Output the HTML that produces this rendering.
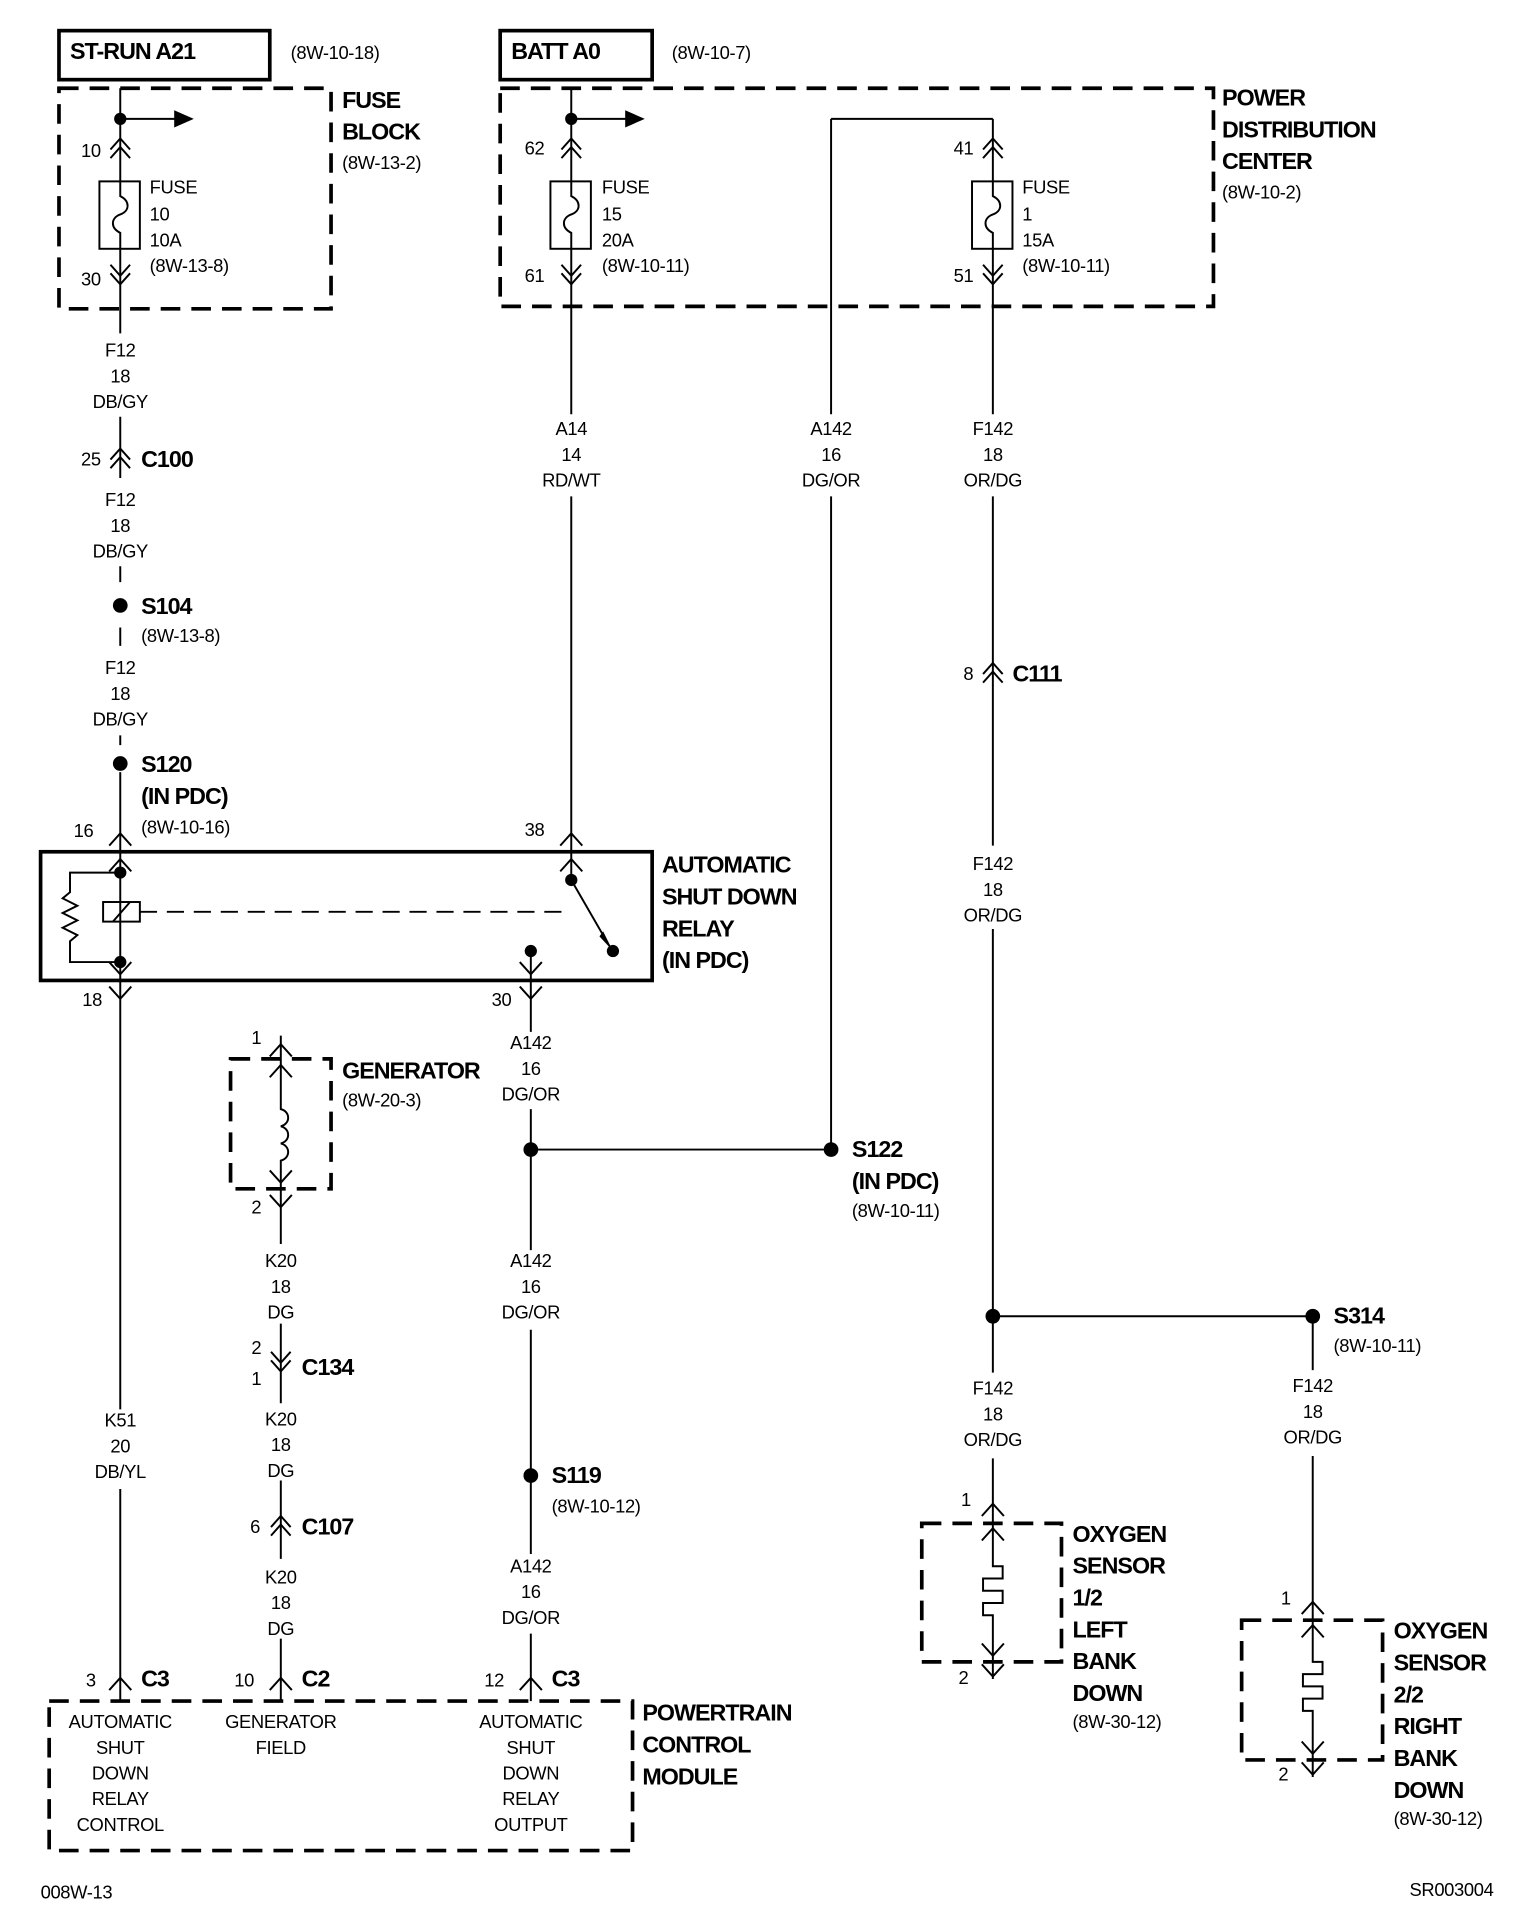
<!DOCTYPE html>
<html><head><meta charset="utf-8"><style>
html,body{margin:0;padding:0;background:#fff}
svg{display:block}
text{font-family:"Liberation Sans Narrow","Liberation Sans",sans-serif;fill:#000}
.t{font-size:15px;letter-spacing:-0.3px}
.c{font-size:15px;text-anchor:middle;letter-spacing:-0.3px}
.b{font-size:19px;font-weight:bold;letter-spacing:-0.8px}
</style></head><body>
<svg width="1520" height="1918" viewBox="0 0 1240 1565" xmlns="http://www.w3.org/2000/svg">
<defs>
<g id="u2" fill="none" stroke="#000" stroke-width="1.6"><polyline points="-8,2 0,-7 8,2"/><polyline points="-8,9 0,0 8,9"/></g>
<g id="d2" fill="none" stroke="#000" stroke-width="1.6"><polyline points="-8,-2 0,7 8,-2"/><polyline points="-8,-9 0,0 8,-9"/></g>
<g id="u1" fill="none" stroke="#000" stroke-width="1.6"><polyline points="-9,7 0,-3 9,7"/></g>
<g id="d1" fill="none" stroke="#000" stroke-width="1.6"><polyline points="-9,-7 0,3 9,-7"/></g>
<g id="fuse" fill="none" stroke="#000" stroke-width="1.6"><rect x="-17" y="0" width="33" height="55"/><path d="M0,0 V12 C8,16 8,24 0,27 C-8,30 -8,38 0,42 V55"/></g>
</defs>
<g fill="none" stroke="#000">
<rect x="48" y="25" width="172" height="40" stroke-width="3"/>
<rect x="408" y="25" width="124" height="40" stroke-width="3"/>
<rect x="48" y="72" width="222" height="180" stroke-width="3" stroke-dasharray="16,9"/>
<rect x="408" y="72" width="582" height="178" stroke-width="3" stroke-dasharray="16,9"/>
<rect x="33" y="695" width="499" height="105" stroke-width="3"/>
<rect x="40" y="1388" width="476" height="122" stroke-width="3" stroke-dasharray="16,9"/>
<rect x="188" y="864" width="82" height="106" stroke-width="3" stroke-dasharray="16,9"/>
<rect x="752" y="1243" width="114" height="113" stroke-width="3" stroke-dasharray="16,9"/>
<rect x="1013" y="1322" width="115" height="114" stroke-width="3" stroke-dasharray="16,9"/>
<g stroke-width="1.6">
<path d="M98,72 V148 M98,203 V272 M98,340 V390 M98,462 V475 M98,512 V527 M98,600 V608 M98,630 V695"/>
<path d="M98,97 H145"/>
<path d="M466,72 V148 M466,203 V338 M466,405 V695 M466,97 H512"/>
<path d="M678,97 H810 M678,97 V338 M678,405 V938"/>
<path d="M810,97 V148 M810,203 V338 M810,405 V690 M810,758 V1120 M810,1190 V1243 M810,1356 V1370"/>
<path d="M1071,1074 V1118 M1071,1188 V1322 M1071,1436 V1450"/>
<path d="M98,800 V1150 M98,1215 V1388"/>
<path d="M229,845 V864 M229,970 V1015 M229,1080 V1145 M229,1208 V1272 M229,1337 V1388"/>
<path d="M433,800 V842 M433,905 V1020 M433,1085 V1268 M433,1333 V1388"/>
<path d="M433,938 H678 M810,1074 H1071"/>
<path d="M98,695 V800 M98,712 H57 V728 l-6,5 l12,6 l-12,6 l12,6 l-12,6 l12,6 l-6,5 V785 H98"/>
<rect x="84" y="736" width="30" height="16"/>
<path d="M92,752 L106,736"/>
<path d="M114,744 H462" stroke-dasharray="14,8"/>
<path d="M466,695 V718 L496,770"/>
<path d="M433,776 V800"/>
<path d="M229,864 V905 c8,2 8,12 0,14 c8,2 8,12 0,14 c8,2 8,12 0,14 V970"/>
<path d="M810,1243 V1278 h8 v10 h-16 v10 h16 v10 h-16 v10 h8 V1356"/>
<path d="M1071,1322 V1356 h8 v10 h-16 v10 h16 v10 h-16 v10 h8 V1436"/>
</g>
</g>
<g fill="#000">
<polygon points="142,90 158,97 142,104"/>
<polygon points="510,90 526,97 510,104"/>
<polygon points="489,764 500,776 492,760"/>
<circle cx="98" cy="97" r="5"/><circle cx="466" cy="97" r="5"/>
<circle cx="98" cy="494" r="6"/><circle cx="98" cy="623" r="6"/>
<circle cx="98" cy="712" r="5"/><circle cx="98" cy="785" r="5"/>
<circle cx="466" cy="718" r="5"/><circle cx="500" cy="776" r="5"/><circle cx="433" cy="776" r="5"/>
<circle cx="433" cy="938" r="6"/><circle cx="678" cy="938" r="6"/>
<circle cx="433" cy="1204" r="6"/>
<circle cx="810" cy="1074" r="6"/><circle cx="1071" cy="1074" r="6"/>
</g>
<use href="#u2" x="98" y="120"/><use href="#d2" x="98" y="225"/>
<use href="#u2" x="466" y="120"/><use href="#d2" x="466" y="225"/>
<use href="#u2" x="810" y="120"/><use href="#d2" x="810" y="225"/>
<use href="#u2" x="98" y="373"/>
<use href="#u2" x="810" y="548"/>
<use href="#u1" x="98" y="683"/><use href="#u1" x="466" y="683"/>
<use href="#u1" x="98" y="704"/><use href="#u1" x="466" y="704"/>
<use href="#d1" x="98" y="792"/><use href="#d1" x="433" y="792"/>
<use href="#d1" x="98" y="812"/><use href="#d1" x="433" y="812"/>
<use href="#u1" x="229" y="855"/><use href="#u1" x="229" y="872"/>
<use href="#d1" x="229" y="962"/><use href="#d1" x="229" y="982"/>
<use href="#d2" x="229" y="1112"/>
<use href="#u2" x="229" y="1244"/>
<use href="#u1" x="98" y="1372"/><use href="#u1" x="229" y="1372"/><use href="#u1" x="433" y="1372"/>
<use href="#u1" x="810" y="1230"/><use href="#u1" x="810" y="1250"/><use href="#d1" x="810" y="1348"/><use href="#d1" x="810" y="1365"/>
<use href="#u1" x="1071" y="1310"/><use href="#u1" x="1071" y="1329"/><use href="#d1" x="1071" y="1428"/><use href="#d1" x="1071" y="1445"/>
<use href="#fuse" x="98" y="148"/><use href="#fuse" x="466" y="148"/><use href="#fuse" x="810" y="148"/>
<text class="b" x="57" y="48">ST-RUN A21</text><text class="t" x="237" y="48">(8W-10-18)</text>
<text class="b" x="417" y="48">BATT A0</text><text class="t" x="548" y="48">(8W-10-7)</text>
<text class="b" x="279" y="88">FUSE</text><text class="b" x="279" y="114">BLOCK</text><text class="t" x="279" y="138">(8W-13-2)</text>
<text class="b" x="997" y="86">POWER</text><text class="b" x="997" y="112">DISTRIBUTION</text><text class="b" x="997" y="138">CENTER</text><text class="t" x="997" y="162">(8W-10-2)</text>
<text class="t" x="66" y="128">10</text><text class="t" x="66" y="233">30</text>
<text class="t" x="428" y="126">62</text><text class="t" x="428" y="230">61</text>
<text class="t" x="778" y="126">41</text><text class="t" x="778" y="230">51</text>
<text class="t" x="122" y="158">FUSE</text><text class="t" x="122" y="180">10</text><text class="t" x="122" y="201">10A</text><text class="t" x="122" y="222">(8W-13-8)</text>
<text class="t" x="491" y="158">FUSE</text><text class="t" x="491" y="180">15</text><text class="t" x="491" y="201">20A</text><text class="t" x="491" y="222">(8W-10-11)</text>
<text class="t" x="834" y="158">FUSE</text><text class="t" x="834" y="180">1</text><text class="t" x="834" y="201">15A</text><text class="t" x="834" y="222">(8W-10-11)</text>
<text class="c" x="98" y="291">F12</text><text class="c" x="98" y="312">18</text><text class="c" x="98" y="333">DB/GY</text>
<text class="t" x="66" y="380">25</text><text class="b" x="115" y="381">C100</text>
<text class="c" x="98" y="413">F12</text><text class="c" x="98" y="434">18</text><text class="c" x="98" y="455">DB/GY</text>
<text class="b" x="115" y="501">S104</text><text class="t" x="115" y="524">(8W-13-8)</text>
<text class="c" x="98" y="550">F12</text><text class="c" x="98" y="571">18</text><text class="c" x="98" y="592">DB/GY</text>
<text class="b" x="115" y="630">S120</text><text class="b" x="115" y="656">(IN PDC)</text><text class="t" x="115" y="680">(8W-10-16)</text>
<text class="t" x="60" y="683">16</text><text class="t" x="428" y="682">38</text>
<text class="c" x="466" y="355">A14</text><text class="c" x="466" y="376">14</text><text class="c" x="466" y="397">RD/WT</text>
<text class="c" x="678" y="355">A142</text><text class="c" x="678" y="376">16</text><text class="c" x="678" y="397">DG/OR</text>
<text class="c" x="810" y="355">F142</text><text class="c" x="810" y="376">18</text><text class="c" x="810" y="397">OR/DG</text>
<text class="t" x="786" y="555">8</text><text class="b" x="826" y="556">C111</text>
<text class="c" x="810" y="710">F142</text><text class="c" x="810" y="731">18</text><text class="c" x="810" y="752">OR/DG</text>
<text class="b" x="540" y="712">AUTOMATIC</text><text class="b" x="540" y="738">SHUT DOWN</text><text class="b" x="540" y="764">RELAY</text><text class="b" x="540" y="790">(IN  PDC)</text>
<text class="t" x="67" y="821">18</text><text class="t" x="401" y="821">30</text>
<text class="t" x="205" y="852">1</text><text class="t" x="205" y="990">2</text>
<text class="b" x="279" y="880">GENERATOR</text><text class="t" x="279" y="903">(8W-20-3)</text>
<text class="c" x="433" y="856">A142</text><text class="c" x="433" y="877">16</text><text class="c" x="433" y="898">DG/OR</text>
<text class="b" x="695" y="944">S122</text><text class="b" x="695" y="970">(IN PDC)</text><text class="t" x="695" y="993">(8W-10-11)</text>
<text class="c" x="229" y="1034">K20</text><text class="c" x="229" y="1055">18</text><text class="c" x="229" y="1076">DG</text>
<text class="c" x="433" y="1034">A142</text><text class="c" x="433" y="1055">16</text><text class="c" x="433" y="1076">DG/OR</text>
<text class="b" x="1088" y="1080">S314</text><text class="t" x="1088" y="1103">(8W-10-11)</text>
<text class="t" x="205" y="1105">2</text><text class="t" x="205" y="1130">1</text><text class="b" x="246" y="1122">C134</text>
<text class="c" x="810" y="1138">F142</text><text class="c" x="810" y="1159">18</text><text class="c" x="810" y="1180">OR/DG</text>
<text class="c" x="1071" y="1136">F142</text><text class="c" x="1071" y="1157">18</text><text class="c" x="1071" y="1178">OR/DG</text>
<text class="c" x="98" y="1164">K51</text><text class="c" x="98" y="1185">20</text><text class="c" x="98" y="1206">DB/YL</text>
<text class="c" x="229" y="1163">K20</text><text class="c" x="229" y="1184">18</text><text class="c" x="229" y="1205">DG</text>
<text class="b" x="450" y="1210">S119</text><text class="t" x="450" y="1234">(8W-10-12)</text>
<text class="t" x="204" y="1251">6</text><text class="b" x="246" y="1252">C107</text>
<text class="c" x="229" y="1292">K20</text><text class="c" x="229" y="1313">18</text><text class="c" x="229" y="1334">DG</text>
<text class="c" x="433" y="1283">A142</text><text class="c" x="433" y="1304">16</text><text class="c" x="433" y="1325">DG/OR</text>
<text class="t" x="784" y="1229">1</text><text class="t" x="782" y="1374">2</text>
<text class="b" x="875" y="1258">OXYGEN</text><text class="b" x="875" y="1284">SENSOR</text><text class="b" x="875" y="1310">1/2</text><text class="b" x="875" y="1336">LEFT</text><text class="b" x="875" y="1362">BANK</text><text class="b" x="875" y="1388">DOWN</text><text class="t" x="875" y="1410">(8W-30-12)</text>
<text class="t" x="1045" y="1309">1</text><text class="t" x="1043" y="1453">2</text>
<text class="b" x="1137" y="1337">OXYGEN</text><text class="b" x="1137" y="1363">SENSOR</text><text class="b" x="1137" y="1389">2/2</text><text class="b" x="1137" y="1415">RIGHT</text><text class="b" x="1137" y="1441">BANK</text><text class="b" x="1137" y="1467">DOWN</text><text class="t" x="1137" y="1489">(8W-30-12)</text>
<text class="t" x="70" y="1376">3</text><text class="b" x="115" y="1376">C3</text>
<text class="t" x="191" y="1376">10</text><text class="b" x="246" y="1376">C2</text>
<text class="t" x="395" y="1376">12</text><text class="b" x="450" y="1376">C3</text>
<text class="c" x="98" y="1410">AUTOMATIC</text><text class="c" x="98" y="1431">SHUT</text><text class="c" x="98" y="1452">DOWN</text><text class="c" x="98" y="1473">RELAY</text><text class="c" x="98" y="1494">CONTROL</text>
<text class="c" x="229" y="1410">GENERATOR</text><text class="c" x="229" y="1431">FIELD</text>
<text class="c" x="433" y="1410">AUTOMATIC</text><text class="c" x="433" y="1431">SHUT</text><text class="c" x="433" y="1452">DOWN</text><text class="c" x="433" y="1473">RELAY</text><text class="c" x="433" y="1494">OUTPUT</text>
<text class="b" x="524" y="1404">POWERTRAIN</text><text class="b" x="524" y="1430">CONTROL</text><text class="b" x="524" y="1456">MODULE</text>
<text class="t" x="33" y="1549">008W-13</text><text class="t" x="1150" y="1547">SR003004</text>
</svg>
</body></html>
